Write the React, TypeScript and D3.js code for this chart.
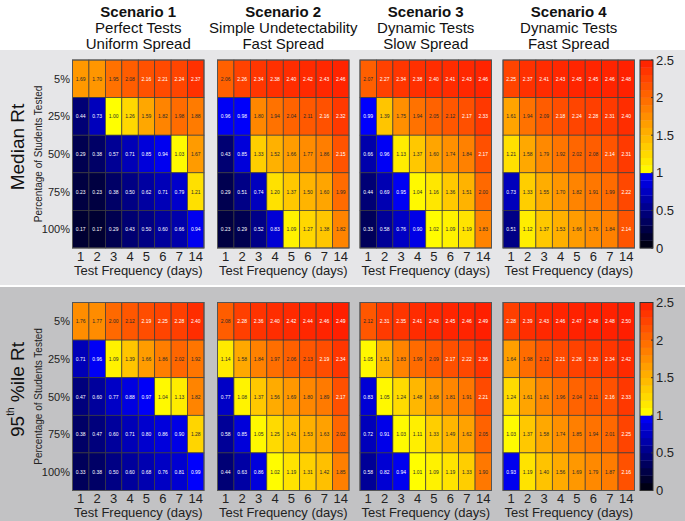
import React from "react";
import * as d3 from "d3";

const FREQ = ["1", "2", "3", "4", "5", "6", "7", "14"];
const PCT = ["5%", "25%", "50%", "75%", "100%"];
const SCEN_TITLE = ["Scenario 1", "Scenario 2", "Scenario 3", "Scenario 4"];
const SCEN_SUB1 = ["Perfect Tests", "Simple Undetectability", "Dynamic Tests", "Dynamic Tests"];
const SCEN_SUB2 = ["Uniform Spread", "Fast Spread", "Slow Spread", "Fast Spread"];
const CBAR_TICKS = [0, 0.5, 1, 1.5, 2, 2.5];

const MED_S1 = [
  [1.69, 1.70, 1.95, 2.08, 2.16, 2.21, 2.24, 2.37],
  [0.44, 0.73, 1.00, 1.26, 1.59, 1.82, 1.98, 1.88],
  [0.29, 0.38, 0.57, 0.71, 0.85, 0.94, 1.03, 1.67],
  [0.23, 0.23, 0.38, 0.50, 0.62, 0.71, 0.79, 1.21],
  [0.17, 0.17, 0.29, 0.43, 0.50, 0.60, 0.66, 0.94],
];
const MED_S2 = [
  [2.06, 2.26, 2.34, 2.38, 2.40, 2.42, 2.43, 2.46],
  [0.96, 0.98, 1.80, 1.94, 2.04, 2.11, 2.16, 2.32],
  [0.43, 0.85, 1.33, 1.52, 1.66, 1.77, 1.86, 2.15],
  [0.29, 0.51, 0.74, 1.20, 1.37, 1.50, 1.60, 1.99],
  [0.23, 0.29, 0.52, 0.83, 1.09, 1.27, 1.38, 1.82],
];
const MED_S3 = [
  [2.07, 2.27, 2.34, 2.38, 2.40, 2.41, 2.43, 2.46],
  [0.99, 1.39, 1.75, 1.94, 2.05, 2.12, 2.17, 2.33],
  [0.66, 0.96, 1.13, 1.37, 1.60, 1.74, 1.84, 2.17],
  [0.44, 0.69, 0.95, 1.04, 1.16, 1.36, 1.51, 2.00],
  [0.33, 0.58, 0.76, 0.90, 1.02, 1.09, 1.19, 1.83],
];
const MED_S4 = [
  [2.25, 2.37, 2.41, 2.43, 2.45, 2.45, 2.46, 2.48],
  [1.61, 1.94, 2.09, 2.18, 2.24, 2.28, 2.31, 2.40],
  [1.21, 1.58, 1.79, 1.92, 2.02, 2.08, 2.14, 2.31],
  [0.73, 1.33, 1.55, 1.70, 1.82, 1.91, 1.99, 2.22],
  [0.51, 1.12, 1.37, 1.53, 1.66, 1.76, 1.84, 2.14],
];
const P95_S1 = [
  [1.76, 1.77, 2.00, 2.12, 2.19, 2.25, 2.28, 2.40],
  [0.71, 0.96, 1.09, 1.39, 1.66, 1.86, 2.02, 1.92],
  [0.47, 0.60, 0.77, 0.88, 0.97, 1.04, 1.13, 1.82],
  [0.38, 0.47, 0.60, 0.71, 0.80, 0.86, 0.90, 1.28],
  [0.33, 0.38, 0.50, 0.60, 0.68, 0.76, 0.81, 0.99],
];
const P95_S2 = [
  [2.08, 2.28, 2.36, 2.40, 2.42, 2.44, 2.46, 2.49],
  [1.14, 1.58, 1.84, 1.97, 2.06, 2.13, 2.19, 2.34],
  [0.77, 1.08, 1.37, 1.56, 1.69, 1.80, 1.89, 2.17],
  [0.58, 0.85, 1.05, 1.25, 1.41, 1.53, 1.63, 2.02],
  [0.44, 0.63, 0.86, 1.02, 1.19, 1.31, 1.42, 1.85],
];
const P95_S3 = [
  [2.12, 2.31, 2.35, 2.41, 2.43, 2.45, 2.46, 2.49],
  [1.05, 1.51, 1.83, 1.99, 2.09, 2.17, 2.22, 2.36],
  [0.83, 1.05, 1.24, 1.48, 1.68, 1.81, 1.91, 2.21],
  [0.72, 0.91, 1.03, 1.11, 1.33, 1.49, 1.62, 2.05],
  [0.58, 0.82, 0.94, 1.01, 1.09, 1.19, 1.33, 1.90],
];
const P95_S4 = [
  [2.28, 2.39, 2.43, 2.46, 2.47, 2.48, 2.48, 2.50],
  [1.64, 1.98, 2.12, 2.21, 2.26, 2.30, 2.34, 2.42],
  [1.24, 1.61, 1.81, 1.96, 2.04, 2.11, 2.16, 2.33],
  [1.03, 1.37, 1.58, 1.74, 1.85, 1.94, 2.01, 2.25],
  [0.93, 1.19, 1.40, 1.56, 1.69, 1.79, 1.87, 2.16],
];

const ROWS = [
  { label: "median", data: [MED_S1, MED_S2, MED_S3, MED_S4] },
  { label: "p95", data: [P95_S1, P95_S2, P95_S3, P95_S4] },
];

const W = 685;
const H = 521;
const FONT = "Liberation Sans, Arial, sans-serif";
const PANEL_LEFT = [72.5, 217.5, 360, 503];
const PANEL_W = 131.5;
const ROW_TOP = [60, 302.5];
const PANEL_H = 188;
const CB_X = 640;
const CB_W = 13;

const lowScale = d3.scaleLinear<string>().domain([0, 1]).range(["#000008", "#0000ff"]).clamp(true);
const highScale = d3.scaleLinear<string>().domain([1, 2.5]).range(["#ffff00", "#ff1e00"]).clamp(true);
const color = (v: number) => (v < 1 ? lowScale(v) : highScale(v));
const textColor = (v: number) => (v < 1 || v > 2.13 ? "#ffffff" : "#2a2a2a");

function Heatmap({ x0, y0, data }: { x0: number; y0: number; data: number[][] }) {
  const xs = d3.scaleBand<string>().domain(FREQ).range([x0, x0 + PANEL_W]);
  const ys = d3.scaleBand<string>().domain(PCT).range([y0, y0 + PANEL_H]);
  return (
    <g>
      {data.map((row, ri) =>
        row.map((v, ci) => (
          <g key={`${ri}-${ci}`}>
            <rect
              x={xs(FREQ[ci])}
              y={ys(PCT[ri])}
              width={xs.bandwidth()}
              height={ys.bandwidth()}
              fill={color(v)}
              stroke="#3c3c3c"
              strokeWidth={0.7}
            />
            <text
              x={(xs(FREQ[ci]) as number) + xs.bandwidth() / 2}
              y={(ys(PCT[ri]) as number) + ys.bandwidth() / 2}
              fill={textColor(v)}
              fontSize={5}
              textAnchor="middle"
              dominantBaseline="central"
              fontFamily={FONT}
            >
              {v.toFixed(2)}
            </text>
          </g>
        ))
      )}
      <rect x={x0} y={y0} width={PANEL_W} height={PANEL_H} fill="none" stroke="#555" strokeWidth={1} />
      {FREQ.map((f) => (
        <text
          key={f}
          x={(xs(f) as number) + xs.bandwidth() / 2}
          y={y0 + PANEL_H + 8}
          fontSize={13}
          fill="#222"
          textAnchor="middle"
          dominantBaseline="central"
          fontFamily={FONT}
        >
          {f}
        </text>
      ))}
      <text
        x={x0 + PANEL_W / 2}
        y={y0 + PANEL_H + 22}
        fontSize={13}
        fill="#222"
        textAnchor="middle"
        dominantBaseline="central"
        fontFamily={FONT}
      >
        Test Frequency (days)
      </text>
    </g>
  );
}

function ColorBar({ y0 }: { y0: number }) {
  const ys = d3.scaleLinear().domain([0, 2.5]).range([y0 + PANEL_H, y0]);
  const steps = d3.range(0, 2.5, 0.1);
  return (
    <g>
      {steps.map((s) => (
        <rect
          key={s}
          x={CB_X}
          y={ys(s + 0.1)}
          width={CB_W}
          height={ys(s) - ys(s + 0.1) + 0.3}
          fill={color(s + 0.05)}
        />
      ))}
      <rect x={CB_X} y={y0} width={CB_W} height={PANEL_H} fill="none" stroke="#333" strokeWidth={1} />
      {CBAR_TICKS.map((t) => (
        <g key={t}>
          <line x1={CB_X + CB_W} x2={CB_X + CB_W - 2} y1={ys(t)} y2={ys(t)} stroke="#333" />
          <text
            x={CB_X + CB_W + 3}
            y={ys(t)}
            fontSize={13}
            fill="#222"
            dominantBaseline="central"
            fontFamily={FONT}
          >
            {t}
          </text>
        </g>
      ))}
    </g>
  );
}

export default function App() {
  return (
    <svg width={W} height={H} style={{ position: "absolute", left: 0, top: 0 }}>
      <rect x={0} y={0} width={W} height={H} fill="#ffffff" />
      <rect x={0} y={50} width={W} height={235} fill="#e6e6e8" />
      <rect x={0} y={287} width={W} height={234} fill="#c2c2c4" />
      {SCEN_TITLE.map((t, i) => {
        const cx = PANEL_LEFT[i] + PANEL_W / 2;
        return (
          <g key={t} fontFamily={FONT} textAnchor="middle" fill="#111">
            <text x={cx} y={11} fontSize={15} fontWeight="bold" dominantBaseline="central">
              {t}
            </text>
            <text x={cx} y={27} fontSize={15} dominantBaseline="central">
              {SCEN_SUB1[i]}
            </text>
            <text x={cx} y={43} fontSize={15} dominantBaseline="central">
              {SCEN_SUB2[i]}
            </text>
          </g>
        );
      })}
      {ROWS.map((r, ri) => {
        const y0 = ROW_TOP[ri];
        const ys = d3.scaleBand<string>().domain(PCT).range([y0, y0 + PANEL_H]);
        const cy = y0 + PANEL_H / 2;
        return (
          <g key={r.label}>
            {r.data.map((d, si) => (
              <Heatmap key={si} x0={PANEL_LEFT[si]} y0={y0} data={d} />
            ))}
            <ColorBar y0={y0} />
            {PCT.map((p) => (
              <text
                key={p}
                x={70}
                y={(ys(p) as number) + ys.bandwidth() / 2}
                fontSize={11}
                fill="#222"
                textAnchor="end"
                dominantBaseline="central"
                fontFamily={FONT}
              >
                {p}
              </text>
            ))}
            <text
              transform={`translate(38,${cy}) rotate(-90)`}
              fontSize={10}
              fill="#222"
              textAnchor="middle"
              dominantBaseline="central"
              fontFamily={FONT}
            >
              Percentage of Students Tested
            </text>
            <text
              transform={`translate(17,${cy - 7}) rotate(-90)`}
              fontSize={19}
              fill="#111"
              textAnchor="middle"
              dominantBaseline="central"
              fontFamily={FONT}
            >
              {ri === 0 ? (
                "Median Rt"
              ) : (
                <>
                  95<tspan fontSize={10} dy={-7}>th</tspan>
                  <tspan dy={7}> %ile Rt</tspan>
                </>
              )}
            </text>
          </g>
        );
      })}
    </svg>
  );
}
